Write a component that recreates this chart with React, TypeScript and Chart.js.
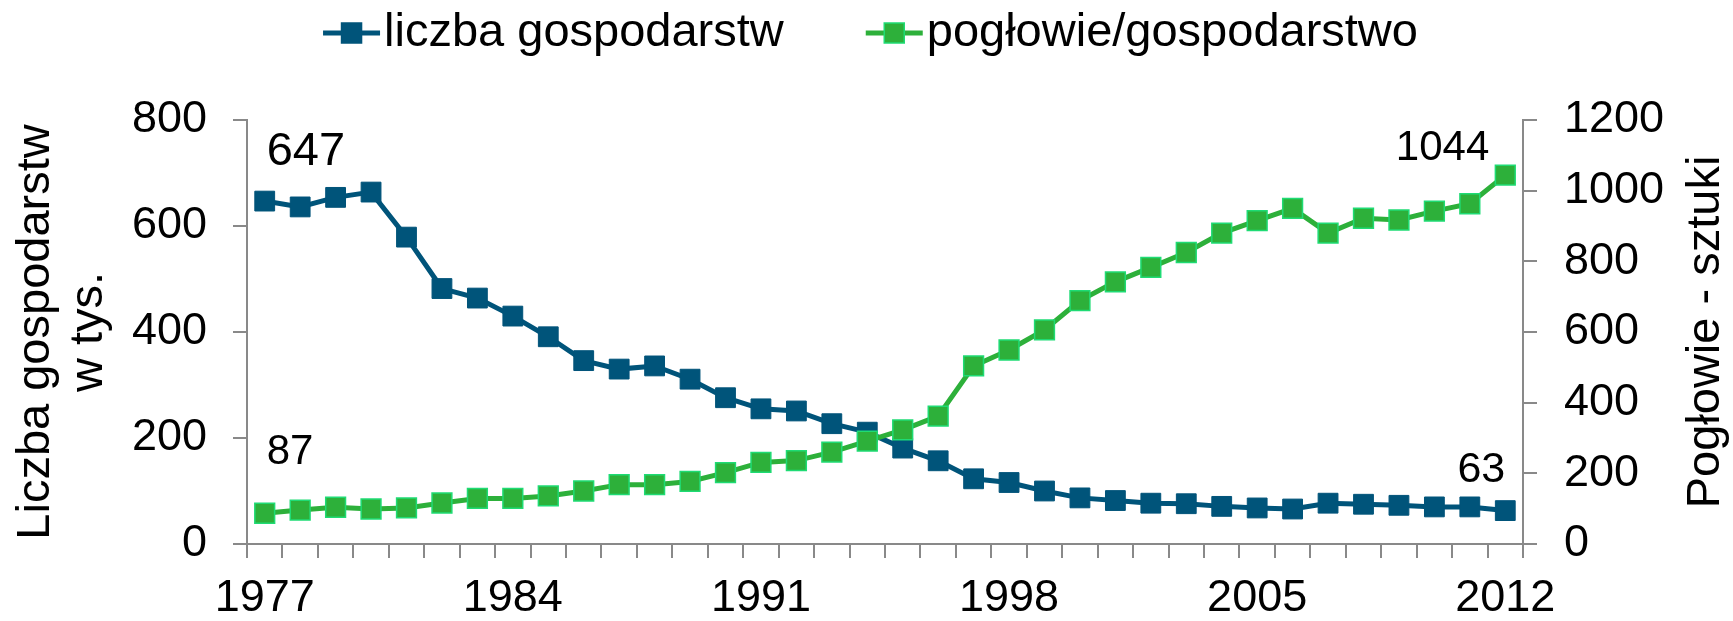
import React, { useEffect, useRef } from 'react';
import { Chart, registerables } from 'chart.js';

Chart.register(...registerables);

// ---- data ----
const years = [
  '1977', '1978', '1979', '1980', '1981', '1982', '1983', '1984', '1985', '1986',
  '1987', '1988', '1989', '1990', '1991', '1992', '1993', '1994', '1995', '1996',
  '1997', '1998', '1999', '2000', '2001', '2002', '2003', '2004', '2005', '2006',
  '2007', '2008', '2009', '2010', '2011', '2012',
];
const xTickLabels = ['1977', '1984', '1991', '1998', '2005', '2012'];

// liczba gospodarstw (tys.) – left axis
const farms = [
  647, 636, 654, 664, 579, 482, 464, 430, 391, 346,
  330, 336, 311, 276, 255, 251, 227, 211, 181, 157,
  123, 116, 100, 87, 82, 77, 76, 71, 68, 66,
  77, 75, 73, 70, 70, 63,
];
// pogłowie / gospodarstwo (sztuki) – right axis
const herdPerFarm = [
  87, 96, 104, 99, 102, 116, 129, 129, 136, 150,
  168, 168, 177, 202, 231, 236, 260, 291, 323, 362,
  504, 549, 606, 689, 742, 783, 825, 880, 915, 950,
  880, 922, 917, 942, 963, 1044,
];

const seriesNames = ['liczba gospodarstw', 'pogłowie/gospodarstwo'];
const leftTitle = ['Liczba gospodarstw', 'w tys.'];
const rightTitle = 'Pogłowie - sztuki';
const leftMax = 800;
const rightMax = 1200;
const tickStep = 200;

// ---- style ----
const FONT = "'Liberation Sans', Arial, sans-serif";
const BLUE = '#00547A';
const GREEN = '#2DB03A';
const GREEN_EDGE = '#1FDB74';
const AXIS = '#898989';
const TICK_SIZE = 45;

export default function App() {
  const ref = useRef<HTMLCanvasElement>(null);

  useEffect(() => {
    const canvas = ref.current!;

    const endLabels = [
      { ds: 0, which: 'first', align: 'left', dx: 2, dy: -49, size: 47 },
      { ds: 1, which: 'first', align: 'left', dx: 2, dy: -61, size: 42 },
      { ds: 1, which: 'last', align: 'right', dx: -16, dy: -27, size: 42 },
      { ds: 0, which: 'last', align: 'right', dx: 0, dy: -40, size: 43 },
    ];

    const endLabelPlugin = {
      id: 'endLabels',
      afterDatasetsDraw(chart: any) {
        const ctx = chart.ctx;
        ctx.save();
        endLabels.forEach((l) => {
          const meta = chart.getDatasetMeta(l.ds);
          const data = chart.data.datasets[l.ds].data;
          const idx = l.which === 'first' ? 0 : data.length - 1;
          const pt = meta.data[idx];
          ctx.font = `${l.size}px ${FONT}`;
          ctx.fillStyle = '#000';
          ctx.textAlign = l.align;
          ctx.textBaseline = 'middle';
          ctx.fillText(String(data[idx]), pt.x + l.dx, pt.y + l.dy);
        });
        ctx.restore();
      },
    };

    const legendPlugin = {
      id: 'lineLegend',
      afterDraw(chart: any) {
        const ctx = chart.ctx;
        const fs = 47;
        const iconW = 57;
        const gapIconText = 4;
        const gapItems = 82;
        const cy = 33;
        const sq = 20;
        ctx.save();
        ctx.font = `${fs}px ${FONT}`;
        const items = chart.data.datasets.map((ds: any) => ({
          text: ds.label,
          line: ds.borderColor,
          fill: ds.pointBackgroundColor,
          edge: ds.pointBorderColor,
          w: iconW + gapIconText + ctx.measureText(ds.label).width,
        }));
        const total = items.reduce((s: number, it: any) => s + it.w, 0) + gapItems * (items.length - 1);
        let x = chart.width / 2 + 4 - total / 2;
        items.forEach((it: any) => {
          ctx.strokeStyle = it.line;
          ctx.lineWidth = 5;
          ctx.beginPath();
          ctx.moveTo(x, cy);
          ctx.lineTo(x + iconW, cy);
          ctx.stroke();
          ctx.fillStyle = it.fill;
          ctx.fillRect(x + iconW / 2 - sq / 2, cy - sq / 2, sq, sq);
          ctx.strokeStyle = it.edge;
          ctx.lineWidth = 1.5;
          ctx.strokeRect(x + iconW / 2 - sq / 2, cy - sq / 2, sq, sq);
          ctx.fillStyle = '#000';
          ctx.textAlign = 'left';
          ctx.textBaseline = 'middle';
          ctx.fillText(it.text, x + iconW + gapIconText, cy);
          x += it.w + gapItems;
        });
        ctx.restore();
      },
    };

    const rightTitlePlugin = {
      id: 'rightTitle',
      afterDraw(chart: any) {
        const ctx = chart.ctx;
        const area = chart.chartArea;
        ctx.save();
        ctx.font = `47px ${FONT}`;
        ctx.fillStyle = '#000';
        ctx.textAlign = 'center';
        ctx.textBaseline = 'middle';
        ctx.translate(1706, (area.top + area.bottom) / 2);
        ctx.rotate(-Math.PI / 2);
        ctx.fillText(rightTitle, 0, 0);
        ctx.restore();
      },
    };

    const plainTick = (v: any) => String(v);

    const chart = new Chart(canvas, {
      type: 'line',
      data: {
        labels: years,
        datasets: [
          {
            label: seriesNames[0],
            data: farms,
            yAxisID: 'y',
            order: 1,
            borderColor: BLUE,
            backgroundColor: BLUE,
            borderWidth: 5,
            pointStyle: 'rect',
            pointRadius: 14,
            pointBackgroundColor: BLUE,
            pointBorderColor: BLUE,
            pointBorderWidth: 1,
            tension: 0,
          },
          {
            label: seriesNames[1],
            data: herdPerFarm,
            yAxisID: 'y1',
            order: 0,
            borderColor: GREEN,
            backgroundColor: GREEN,
            borderWidth: 5,
            pointStyle: 'rect',
            pointRadius: 14,
            pointBackgroundColor: GREEN,
            pointBorderColor: GREEN_EDGE,
            pointBorderWidth: 1.5,
            tension: 0,
          },
        ],
      },
      options: {
        animation: false,
        responsive: true,
        maintainAspectRatio: false,
        devicePixelRatio: 1,
        layout: { padding: { top: 120, left: 0, right: 0, bottom: 0 } },
        plugins: {
          legend: { display: false },
          tooltip: { enabled: false },
        },
        scales: {
          x: {
            type: 'category',
            offset: true,
            grid: { offset: true, drawOnChartArea: false, color: AXIS, lineWidth: 2, tickLength: 14 },
            border: { color: AXIS, width: 2 },
            ticks: {
              autoSkip: false,
              maxRotation: 0,
              minRotation: 0,
              padding: 14,
              color: '#000',
              font: { family: FONT, size: TICK_SIZE },
              callback(this: any, v: any) {
                const lab = this.getLabelForValue(v);
                return xTickLabels.includes(lab) ? lab : '';
              },
            },
            afterFit(s: any) {
              s.height = 77;
            },
          },
          y: {
            position: 'left',
            min: 0,
            max: leftMax,
            grid: { drawOnChartArea: false, color: AXIS, lineWidth: 2, tickLength: 14 },
            border: { color: AXIS, width: 2 },
            ticks: { stepSize: tickStep, padding: 26, color: '#000', font: { family: FONT, size: TICK_SIZE }, callback: plainTick },
            title: {
              display: true,
              text: leftTitle,
              color: '#000',
              font: { family: FONT, size: 47, lineHeight: 1.12 },
              padding: { top: 10, bottom: 0 },
            },
            afterFit(s: any) {
              s.width = 247;
            },
          },
          y1: {
            position: 'right',
            min: 0,
            max: rightMax,
            grid: { drawOnChartArea: false, color: AXIS, lineWidth: 2, tickLength: 14 },
            border: { color: AXIS, width: 2 },
            ticks: { stepSize: tickStep, padding: 27, color: '#000', font: { family: FONT, size: TICK_SIZE }, callback: plainTick },
            afterFit(s: any) {
              s.width = 210;
            },
          },
        },
      },
      plugins: [endLabelPlugin, legendPlugin, rightTitlePlugin],
    } as any);

    return () => chart.destroy();
  }, []);

  return (
    <div style={{ position: 'fixed', left: 0, top: 0, width: 1733, height: 621, background: '#fff' }}>
      <canvas ref={ref} />
    </div>
  );
}
